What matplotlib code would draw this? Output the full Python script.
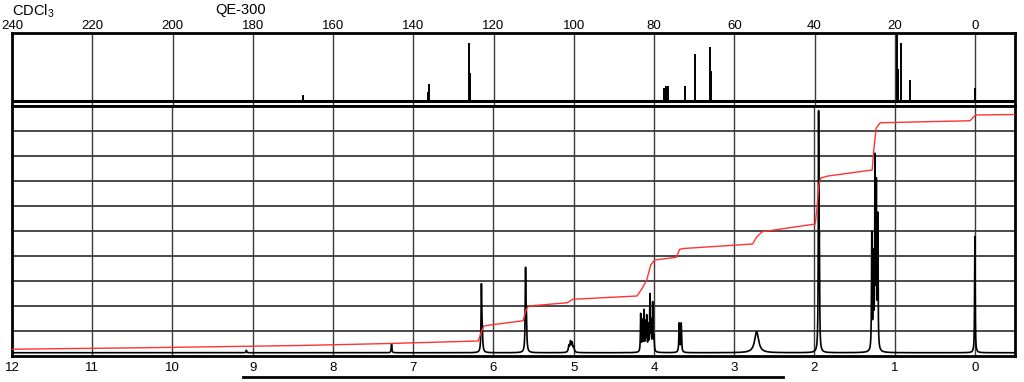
import numpy as np
import matplotlib
matplotlib.use('agg')
import matplotlib.pyplot as plt

plt.rcParams['font.family'] = ['Liberation Sans', 'DejaVu Sans']
plt.rcParams['mathtext.fontset'] = 'custom'
plt.rcParams['mathtext.rm'] = 'Liberation Sans'
plt.rcParams['mathtext.default'] = 'regular'

# 13C peaks (ppm, height above baseline, axis fraction)
c_ppm    = [167.5, 136.4, 136.1, 126.0, 125.8, 77.6, 77.0, 76.6, 72.4, 69.8, 66.0, 65.8, 19.4, 19.2, 18.4, 16.3, 0.0]
c_height = [0.08, 0.12, 0.23, 0.79, 0.38, 0.17, 0.20, 0.20, 0.20, 0.64, 0.73, 0.40, 0.90, 0.44, 0.79, 0.28, 0.17]
c_base   = 0.073

# 1H peaks (ppm, height in grid units, half width ppm)
h_ppm    = [9.08, 7.27, 6.15, 6.14, 5.60, 5.59, 5.06, 5.04, 5.02, 5.00,
            4.165, 4.145, 4.125, 4.105, 4.09, 4.07, 4.05, 4.035, 4.016, 4.0,
            3.685, 3.66, 2.72, 1.948, 1.938,
            1.285, 1.265, 1.245, 1.228, 1.21, 0.0]
h_height = [0.10, 0.34, 2.55, 0.80, 3.10, 1.20, 0.25, 0.40, 0.35, 0.20,
            1.50, 1.20, 1.60, 1.10, 1.35, 1.00, 2.20, 1.10, 1.90, 0.60,
            1.15, 1.15, 0.84, 9.20, 3.50,
            4.60, 3.60, 7.40, 6.30, 5.20, 4.65]
h_width  = [0.005, 0.005, 0.005, 0.006, 0.005, 0.006, 0.008, 0.008, 0.008, 0.008,
            0.004, 0.004, 0.004, 0.004, 0.004, 0.004, 0.004, 0.004, 0.004, 0.005,
            0.005, 0.005, 0.030, 0.004, 0.004,
            0.004, 0.004, 0.004, 0.004, 0.004, 0.004]
h_base = 0.13

# integral curve
int_ppm   = [12.0, 11.49, 10.37, 8.41, 7.30, 6.19, 6.155, 6.12, 6.04, 5.63, 5.595, 5.56,
             5.08, 5.01, 4.21, 4.16, 4.09, 4.04, 3.99, 3.72, 3.68, 3.63, 2.77, 2.72, 2.65,
             1.99, 1.97, 1.944, 1.92, 1.83, 1.28, 1.26, 1.23, 1.18, 0.06, -0.01, -0.5]
int_level = [0.27, 0.29, 0.33, 0.42, 0.50, 0.60, 0.92, 1.20, 1.24, 1.41, 1.84, 2.00,
             2.13, 2.27, 2.40, 2.64, 3.04, 3.64, 3.84, 3.95, 4.27, 4.30, 4.48, 4.76, 4.97,
             5.28, 5.84, 6.84, 7.12, 7.20, 7.44, 8.24, 9.12, 9.33, 9.41, 9.64, 9.66]

underline_ppm = [9.12, 2.39]

fig = plt.figure(figsize=(10.24, 3.82), dpi=100, facecolor='w')
ax1 = fig.add_axes([12/1024, 1-106/382, 1003/1024, 73/382])
ax2 = fig.add_axes([12/1024, 1-356/382, 1003/1024, 250/382])

gc = '#3a3a3a'

# 13C spectrum
ax1.set_xlim(240, -9.96)
ax1.set_ylim(0, 1)
for t in range(220, -1, -20):
	ax1.axvline(t, color=gc, lw=1.0, zorder=1)
ax1.axhline(c_base, color='k', lw=2.2, zorder=2)
ax1.vlines(c_ppm, c_base, [c_base + h for h in c_height], color='k', lw=1.4, zorder=3)
ax1.xaxis.tick_top()
ax1.set_xticks(range(240, -1, -20))
ax1.tick_params(axis='x', length=0, pad=1, labelsize=9.5)
ax1.set_yticks([])
for s in ax1.spines.values():
	s.set_linewidth(2)

# 1H spectrum
x = np.linspace(12.0, -0.5, 25001)
y = np.full_like(x, h_base)
for p, h, w in zip(h_ppm, h_height, h_width):
	y += h * w**2 / ((x - p)**2 + w**2)

ax2.set_xlim(12, -0.5)
ax2.set_ylim(0, 10)
for t in range(11, -1, -1):
	ax2.axvline(t, color=gc, lw=1.0, zorder=1)
for t in range(1, 10):
	ax2.axhline(t, color=gc, lw=1.3, zorder=1)
ax2.plot(x, y, color='k', lw=1.2, zorder=3)
ax2.plot(int_ppm, int_level, color='#ff3333', lw=1.0, zorder=4)
ax2.set_xticks(range(12, -1, -1))
ax2.tick_params(axis='x', length=0, pad=4, labelsize=9.5)
ax2.set_yticks([])
for s in ax2.spines.values():
	s.set_linewidth(2)
ax2.plot(underline_ppm, [-0.84, -0.84], color='k', lw=2, clip_on=False)

fig.text(12/1024, 1-3/382, 'CDCl$_3$', fontsize=10.5, va='top', ha='left')
fig.text(215/1024, 1-3/382, 'QE-300', fontsize=10.5, va='top', ha='left')

fig.savefig('out.png', dpi=100)
plt.close('all')
